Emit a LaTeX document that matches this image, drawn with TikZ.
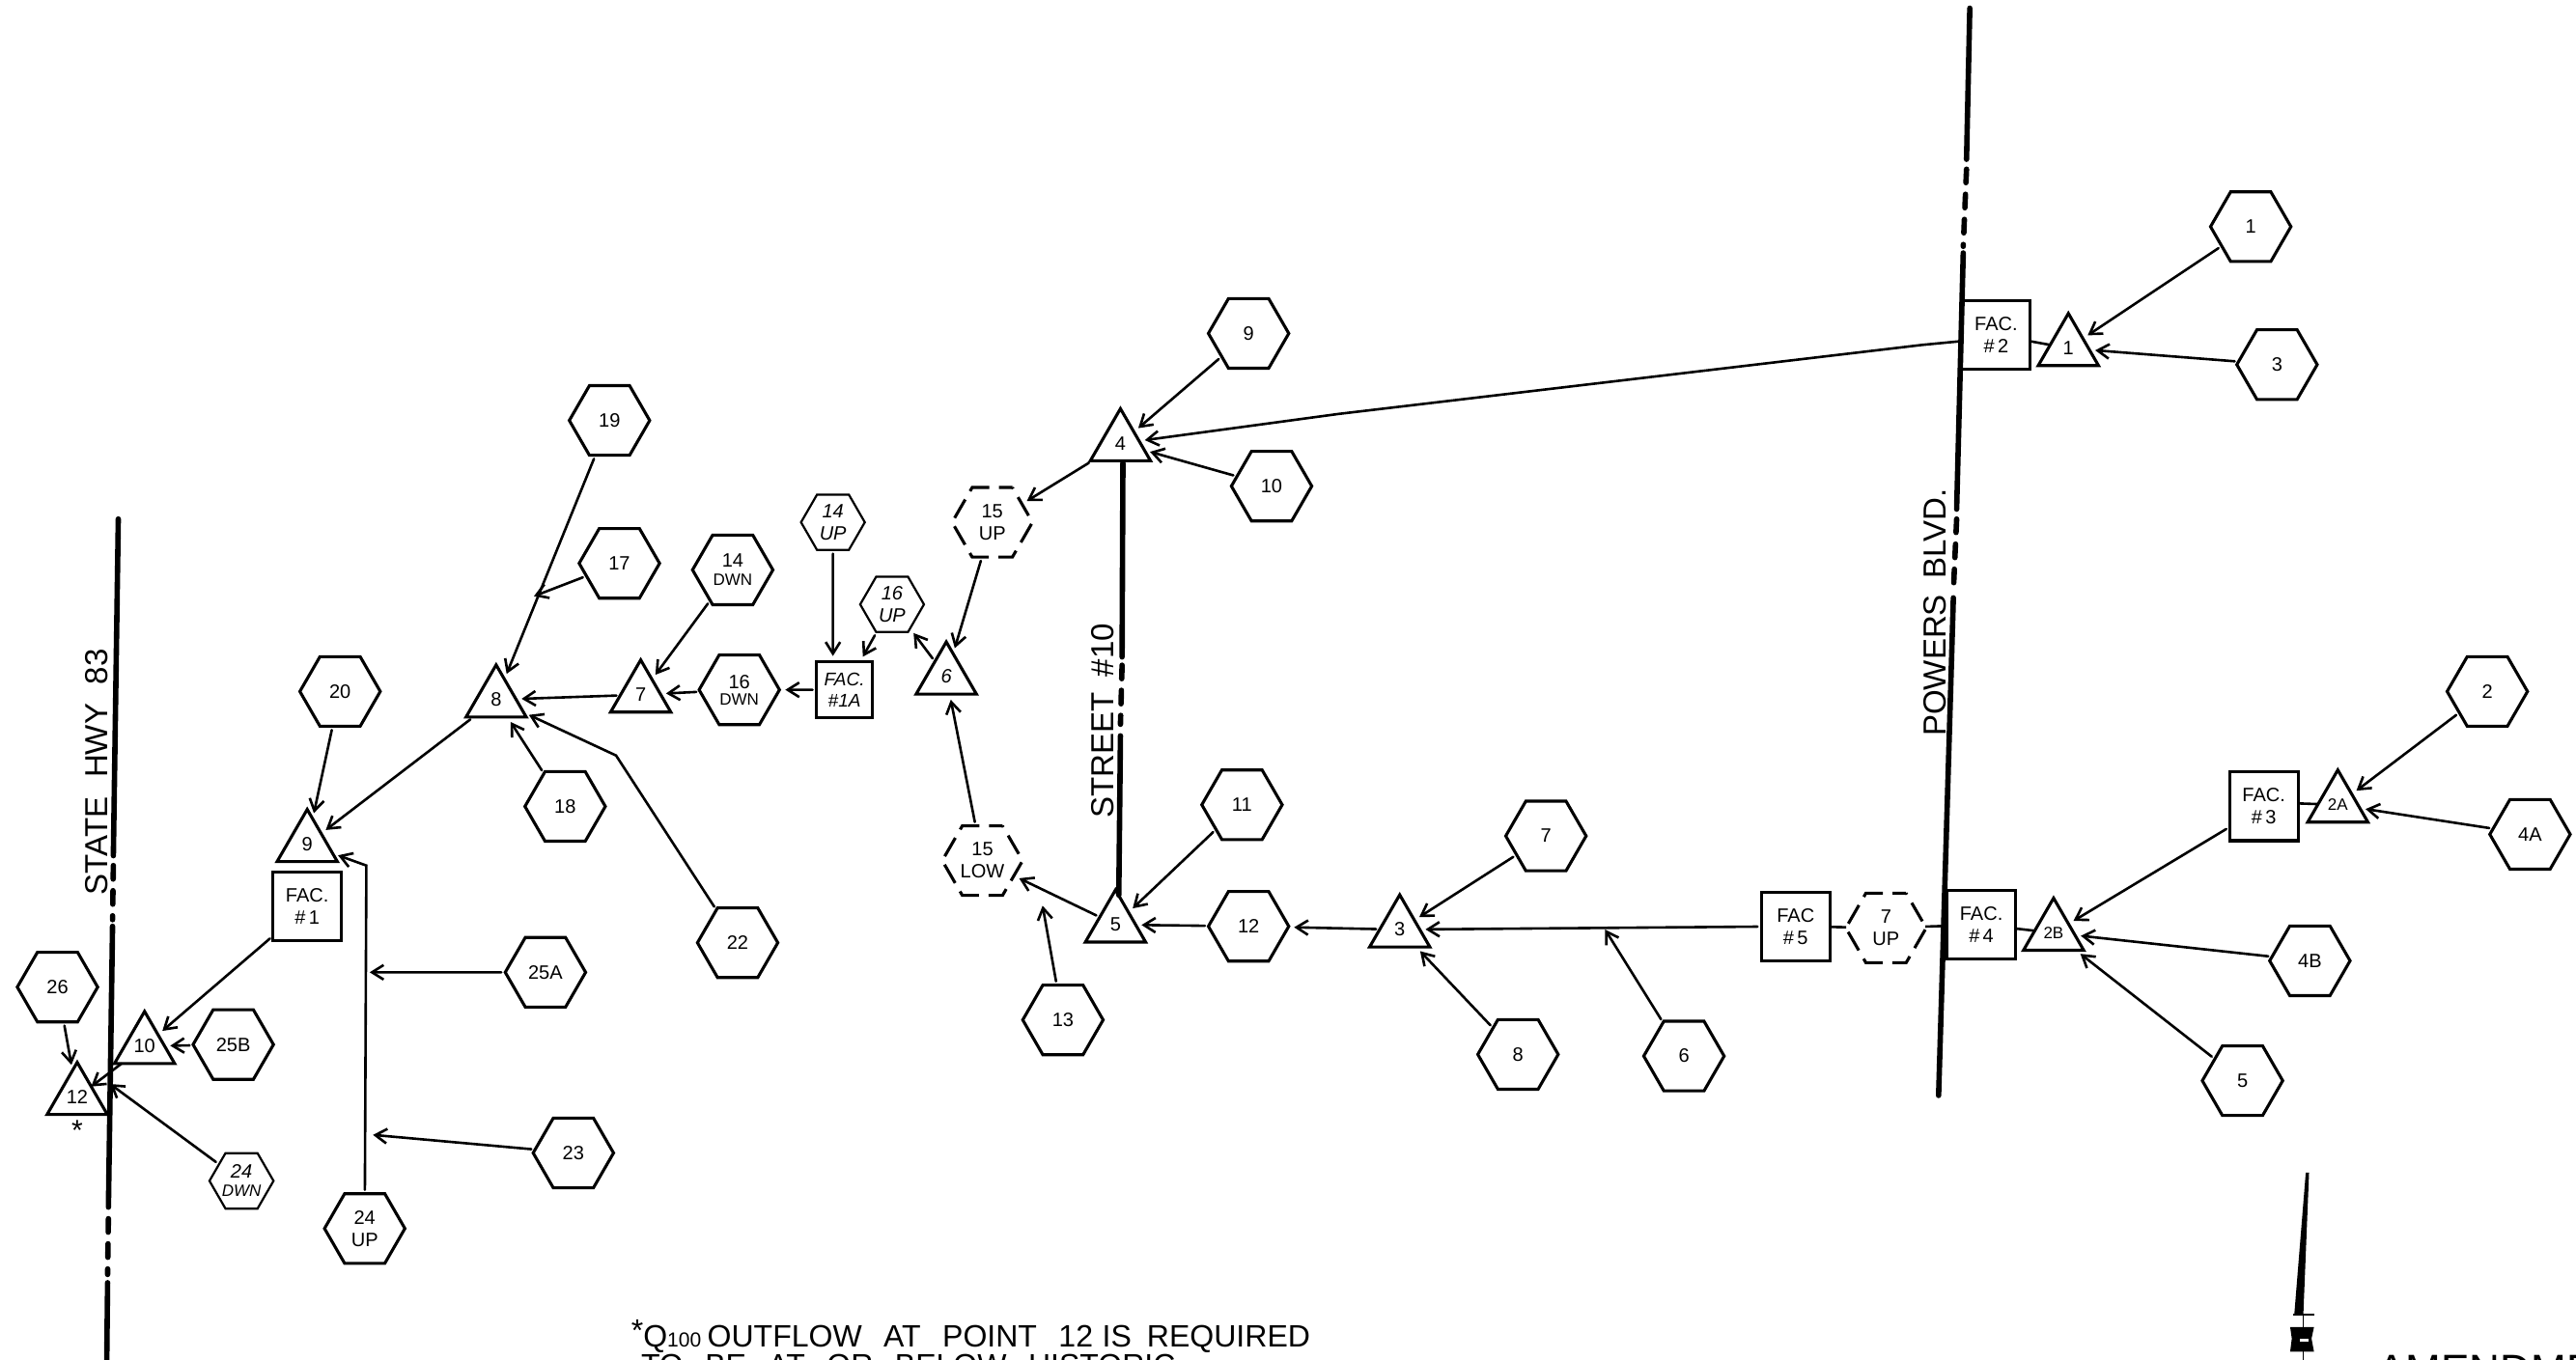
\documentclass[tikz,border=0pt]{standalone}
\usepackage{fontspec}
\setmainfont{Liberation Sans}
\usetikzlibrary{shapes.geometric,arrows.meta}
\newcommand{\lab}{\fontsize{10}{11.5}\selectfont}
\newcommand{\tinylab}{\fontsize{8.5}{9}\selectfont}
\tikzset{
  x=0.85pt,y=-0.85pt,
  shapebase/.style={draw,inner sep=0pt,outer sep=0pt,line width=1.55pt,align=center,font=\lab},
  hexa/.style={shapebase,regular polygon,regular polygon sides=6,minimum size=41.6pt},
  smallhexa/.style={hexa,minimum size=33pt,line width=1.1pt,font=\lab\itshape},
  dashhexa/.style={hexa,dash pattern=on 11pt off 5pt,dash phase=4pt},
  tri/.style={shapebase,regular polygon,regular polygon sides=3,minimum size=36pt},
  fac/.style={shapebase,rectangle,minimum size=35.5pt},
  conn/.style={line width=1.3pt,line cap=round,shorten >=3pt,shorten <=2pt},
  arr/.style={conn,-{Straight Barb[length=6pt,width=7.5pt,line width=1.3pt]}},
  plain/.style={line width=1.3pt},
  road/.style={line width=2.8pt,line cap=round},
  roaddash/.style={road,dash pattern=on 7pt off 6pt},
  roadtext/.style={rotate=90,font=\fontsize{16.5}{17}\selectfont,inner sep=0pt},
}
\begin{document}
\begin{tikzpicture}
\useasboundingbox (0,0) rectangle (1568,828);
\clip (0,0) rectangle (1568,828);
% roads
\draw[road] (1199,5) -- (1197,97);
\draw[roaddash] (1197,103) -- (1195,150);
\draw[road] (1195,154) -- (1191,310);
\draw[roaddash] (1191,316) -- (1189,360);
\draw[road] (1189,364) -- (1180,667);
\draw[road] (72,316) -- (69,521);
\draw[roaddash] (69,527) -- (68.5,560);
\draw[road] (68.5,564) -- (66,735);
\draw[roaddash] (66,742) -- (65.5,776);
\draw[road] (65.5,781) -- (65,828);
\draw[road] (683.5,282) -- (683,400);
\draw[roaddash] (683,405) -- (682,441);
\draw[road] (682,448) -- (681,545);
\node[roadtext] (lhwy) at (59,470) {STATE\hspace{0.6em}HWY\hspace{0.6em}83};
\node[roadtext] (lstr) at (671,439) {STREET\hspace{0.5em}\#10};
\node[roadtext] (lpow) at (1178,373) {POWERS\hspace{0.5em}BLVD.};
% hexagons
\node[hexa] (h1) at (1370,138) {1};
\node[hexa] (h3) at (1386,222) {3};
\node[hexa] (h2) at (1514,421) {2};
\node[hexa] (h4a) at (1540,508) {4A};
\node[hexa] (h4b) at (1406,585) {4B};
\node[hexa] (h5) at (1365,658) {5};
\node[hexa] (h6) at (1025,643) {6};
\node[hexa] (h7) at (941,509) {7};
\node[hexa] (h8) at (924,642) {8};
\node[hexa] (h9) at (760,203) {9};
\node[hexa] (h10) at (774,296) {10};
\node[hexa] (h11) at (756,490) {11};
\node[hexa] (h12) at (760,564) {12};
\node[hexa] (h13) at (647,621) {13};
\node[smallhexa] (h14u) at (507,318) {14\\UP};
\node[hexa] (h14d) at (446,347) {14\\[-2pt]{\tinylab DWN}};
\node[smallhexa] (h16u) at (543,368) {16\\UP};
\node[hexa] (h16d) at (450,420) {16\\[-3pt]{\tinylab DWN}};
\node[hexa] (h19) at (371,256) {19};
\node[hexa] (h17) at (377,343) {17};
\node[hexa] (h18) at (344,491) {18};
\node[hexa] (h20) at (207,421) {20};
\node[hexa] (h22) at (449,574) {22};
\node[hexa] (h25a) at (332,592) {25A};
\node[hexa] (h25b) at (142,636) {25B};
\node[hexa] (h23) at (349,702) {23};
\node[hexa] (h24u) at (222,748) {24\\UP};
\node[smallhexa] (h24d) at (147,719) {24\\[-2pt]{\tinylab DWN}};
\node[hexa] (h26) at (35,601) {26};
\node[dashhexa] (h15u) at (604,318) {15\\UP};
\node[dashhexa] (h15l) at (598,524) {15\\LOW};
\node[dashhexa] (h7u) at (1148,565) {7\\UP};
% triangles
\node[tri] (t1) at (1259,212) {1};
\node[tri] (t2a) at (1423,490) {\tinylab 2A};
\node[tri] (t2b) at (1250,568) {\tinylab 2B};
\node[tri] (t3) at (852,566) {3};
\node[tri] (t4) at (682,270) {4};
\node[tri] (t5) at (679,563) {5};
\node[tri,font=\lab\itshape] (t6) at (576,412) {6};
\node[tri] (t7) at (390,423) {7};
\node[tri] (t8) at (302,426) {8};
\node[tri] (t9) at (187,514) {9};
\node[tri] (t10) at (88,637) {10};
\node[tri] (t12) at (47,668) {12};
\node[font=\fontsize{15}{15}\selectfont,inner sep=0pt] (star) at (47,688) {*};
% facilities
\node[fac] (f2) at (1215,204) {FAC.\\\#\,2};
\node[fac] (f3) at (1378,491) {FAC.\\\#\,3};
\node[fac] (f4) at (1206,563) {FAC.\\\#\,4};
\node[fac] (f5) at (1093,564) {FAC\\\#\,5};
\node[fac] (f1) at (187,552) {FAC.\\\#\,1};
\node[fac,minimum size=29pt,font=\fontsize{9.5}{11}\selectfont\itshape] (f1a) at (514,420) {FAC.\\\#1A};
% free points on lines
\coordinate (c6) at (977,566);
\coordinate (c17) at (325,363);
\coordinate (c25) at (225,592);
\coordinate (c23) at (227,691);
\coordinate (c24) at (67,660);
% connectors
\draw[arr] (h1) -- (t1);
\draw[arr] (h3) -- (t1);
\draw[plain] (f2) -- (t1);
\draw[arr] (f2.190) -- (1170,210) -- (815,252) -- (t4);
\draw[arr] (h9) -- (t4);
\draw[arr] (h10) -- (t4);
\draw[arr] (t4) -- (h15u);
\draw[arr] (h15u) -- (t6);
\draw[arr] (t6) -- (h16u);
\draw[arr] (h16u) -- (f1a);
\draw[arr] (h14u) -- (h14u|-f1a.north);
\draw[arr] (f1a) -- (h16d);
\draw[arr] (h16d) -- (t7);
\draw[arr] (h14d) -- (t7);
\draw[arr] (t7) -- (t8);
\draw[arr] (h15l) -- (t6);
\draw[arr] (t5) -- (h15l);
\draw[arr] (h13) -- (634,548);
\draw[arr] (h11) -- (t5);
\draw[arr] (h12) -- (t5);
\draw[arr] (t3) -- (h12);
\draw[arr] (h7) -- (t3);
\draw[arr] (h8) -- (t3);
\draw[arr] (f5) -- (t3);
\draw[arr,shorten >=0pt] (h6) -- (c6);
\draw[plain] (f5) -- (h7u);
\draw[plain] (h7u) -- (f4);
\draw[plain] (f4) -- (t2b);
\draw[arr] (f3) -- (t2b);
\draw[plain] (f3.5) -- (t2a);
\draw[arr] (h2) -- (t2a);
\draw[arr] (h4a) -- (t2a);
\draw[arr] (h4b) -- (t2b);
\draw[arr] (h5) -- (t2b);
\draw[arr] (t8) -- (t9);
\draw[arr] (h19) -- (t8);
\draw[arr,shorten >=0pt] (h17) -- (c17);
\draw[arr] (h18) -- (t8);
\draw[arr] (h22) -- (375,460) -- (t8);
\draw[arr] (h20) -- (t9);
\draw[arr] (h24u) -- (223,527) -- (t9);
\draw[arr,shorten >=0pt] (h25a) -- (c25);
\draw[arr,shorten >=0pt] (h23) -- (c23);
\draw[arr] (f1) -- (t10);
\draw[arr] (h25b) -- (t10);
\draw[arr] (h26) -- (t12);
\draw[arr,shorten >=0pt,shorten <=0pt] (t10) -- (t12);
\draw[arr,shorten >=0pt] (h24d) -- (c24);
% north arrow
\fill (1405.5,714) -- (1403.5,714) -- (1396.5,800.5) -- (1402,800.5) -- cycle;
\draw[line width=0.8pt] (1396,800.5) -- (1408.6,800.5);
\draw[line width=0.6pt] (1402,800) -- (1402,828);
\fill (1394,808) -- (1408.5,808) -- (1407,815) -- (1408.5,823) -- (1394,823) -- (1395,815) -- cycle;
\fill[white] (1400,815.3) rectangle (1405,816.7);
% notes
\node[anchor=base west,inner sep=0pt,font=\fontsize{16}{17}\selectfont] (n1) at (384,820) {\raisebox{3pt}{*}Q{\fontsize{10.5}{10}\selectfont 100}\hspace{0.2em}OUTFLOW\hspace{0.7em}AT\hspace{0.7em}POINT\hspace{0.7em}12\hspace{0.3em}IS\hspace{0.5em}REQUIRED};
\node[anchor=base west,inner sep=0pt,font=\fontsize{16}{17}\selectfont] (n2) at (390,838) {TO\hspace{0.7em}BE\hspace{0.7em}AT\hspace{0.7em}OR\hspace{0.7em}BELOW\hspace{0.7em}HISTORIC};
\node[anchor=base west,inner sep=0pt,font=\fontsize{22}{24}\selectfont] (n3) at (1447,843) {AMENDMENT};
\end{tikzpicture}
\end{document}
